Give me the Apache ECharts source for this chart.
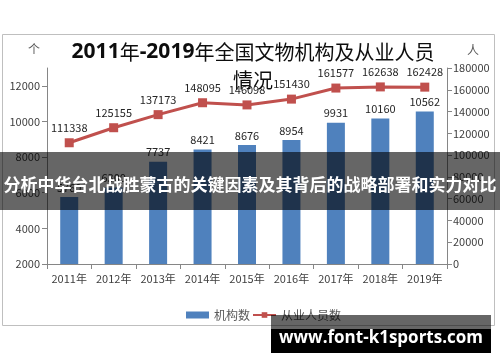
<!DOCTYPE html>
<html><head><meta charset="utf-8">
<script src="https://cdn.jsdelivr.net/npm/echarts@6/dist/echarts.min.js"></script>
<style>html,body{margin:0;padding:0;background:#fff}#c{width:500px;height:362px}</style>
</head><body><div id="c"></div>
<script>
var categories = ['2011年','2012年','2013年','2014年','2015年','2016年','2017年','2018年','2019年'];
var institutions = [5760, 6300, 7737, 8421, 8676, 8954, 9931, 10160, 10562];
var staff = [111338, 125155, 137173, 148095, 146098, 151430, 161577, 162638, 162428];
var leftTickValues = [2000, 4000, 6000, 8000, 10000, 12000];
var leftRange = {min: 2000, max: 13000};
var rightTicks = {min: 0, max: 180000, interval: 20000};
var titleLine1 = '2011年-2019年全国文物机构及从业人员';
var titleLine2 = '情况';
var bannerText = '分析中华台北战胜蒙古的关键因素及其背后的战略部署和实力对比';
var watermark = 'www.font-k1sports.com';

var FF = '"Noto Sans CJK SC","Noto Sans",sans-serif';
var plain = function (v) { return String(v); };
var chart = echarts.init(document.getElementById('c'), null, {renderer: 'canvas'});
chart.setOption({
  animation: false,
  textStyle: {fontFamily: FF},
  grid: {left: 47, right: 53, top: 68, bottom: 98},
  legend: {
    left: 181, top: 304, itemGap: 2, itemWidth: 23, itemHeight: 7,
    textStyle: {fontSize: 12, color: '#595959', fontFamily: FF},
    data: [{name: '机构数', icon: 'rect'}, {name: '从业人员数'}]
  },
  xAxis: {
    type: 'category', data: categories,
    axisLine: {lineStyle: {color: '#868686'}},
    axisTick: {show: true, alignWithLabel: false, interval: 0, length: 5, lineStyle: {color: '#868686'}},
    axisLabel: {fontSize: 11, color: '#404040', margin: 9, interval: 0, fontFamily: FF}
  },
  yAxis: [{
    type: 'value', min: leftRange.min, max: leftRange.max,
    axisLine: {show: true, lineStyle: {color: '#868686'}},
    axisTick: {show: true, length: 5, lineStyle: {color: '#868686'}, customValues: leftTickValues},
    splitLine: {show: false},
    axisLabel: {fontSize: 11, color: '#404040', margin: 7, fontFamily: FF, formatter: plain, customValues: leftTickValues}
  }, {
    type: 'value', min: rightTicks.min, max: rightTicks.max, interval: rightTicks.interval,
    axisLine: {show: true, lineStyle: {color: '#868686'}},
    axisTick: {show: true, length: 5, lineStyle: {color: '#868686'}},
    splitLine: {show: false},
    axisLabel: {fontSize: 11, color: '#404040', margin: 6, fontFamily: FF, formatter: plain}
  }],
  series: [{
    name: '机构数', type: 'bar', yAxisIndex: 0, data: institutions, barWidth: 18,
    itemStyle: {color: '#4F81BD'},
    label: {show: true, position: 'top', distance: 4, fontSize: 11, color: '#262626', fontFamily: FF}
  }, {
    name: '从业人员数', type: 'line', yAxisIndex: 1, data: staff,
    symbol: 'rect', symbolSize: 9,
    lineStyle: {color: '#C0504D', width: 3},
    itemStyle: {color: '#C0504D'},
    label: {show: true, position: 'top', distance: 5, fontSize: 11, color: '#262626', fontFamily: FF}
  }],
  graphic: [
    {type: 'rect', z: -1, shape: {x: 2.5, y: 34.5, width: 492, height: 291}, style: {fill: 'none', stroke: '#BFBFBF', lineWidth: 1}},
    {type: 'text', left: 28, top: 43, style: {text: '个', font: '12px ' + FF, fill: '#595959'}},
    {type: 'text', left: 467, top: 44, style: {text: '人', font: '12px ' + FF, fill: '#595959'}},
    {type: 'text', z: 10, x: 253, y: 38, style: {
      text: '{b|2011}{n|年}{b|-2019}{n|年全国文物机构及从业人员}\n{n|情况}',
      align: 'center', fill: '#0D0D0D',
      rich: {
        b: {font: 'bold 21px "Noto Sans",' + FF, fill: '#0D0D0D', lineHeight: 28},
        n: {font: '20px ' + FF, fill: '#0D0D0D', lineHeight: 28}
      }
    }},
    {type: 'rect', z: 20, shape: {x: 0, y: 152, width: 500, height: 58}, style: {fill: 'rgba(0,0,0,0.6)'}},
    {type: 'text', z: 21, x: 250, y: 185, style: {text: bannerText, font: 'bold 17px ' + FF, fill: '#FFFFFF', align: 'center', verticalAlign: 'middle'}},
    {type: 'rect', z: 20, shape: {x: 271, y: 315, width: 220, height: 38}, style: {fill: 'rgba(0,0,0,0.6)'}},
    {type: 'rect', z: 20, shape: {x: 271, y: 329, width: 220, height: 24}, style: {fill: '#000000'}},
    {type: 'text', z: 21, x: 381, y: 338, style: {text: watermark, font: 'bold 17px "Open Sans","Noto Sans",sans-serif', fill: '#FFFFFF', align: 'center', verticalAlign: 'middle'}}
  ]
});
</script></body></html>
